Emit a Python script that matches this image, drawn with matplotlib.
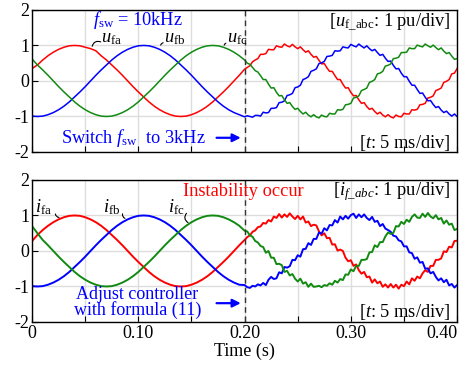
import matplotlib
matplotlib.use('Agg')
import matplotlib.pyplot as plt
import numpy as np

plt.rcParams['font.family'] = ['Liberation Serif', 'DejaVu Serif']
plt.rcParams['mathtext.fontset'] = 'custom'
plt.rcParams['mathtext.rm'] = 'Liberation Serif'
plt.rcParams['mathtext.it'] = 'Liberation Serif:italic'
plt.rcParams['axes.unicode_minus'] = False

# sample times: 5 ms steps before the switch, 2.5 ms after it
t_pre = np.arange(40) * 0.005
t_post = 0.2 + np.arange(81) * 0.0025

# top panel: filter voltages u_fa, u_fb, u_fc (pu)
ua_pre = [.35, .45, .59, .71, .81, .89, .95, .99, 1.00, .99, .95, .91, .85, .71, .59, .45, .31, .16, 0, -.16,
          -.31, -.45, -.59, -.71, -.81, -.89, -.95, -.99, -1.00, -.99, -.95, -.89, -.81, -.71, -.59, -.45, -.31, -.16, 0, .16]
ub_pre = [-.99, -1.00, -.99, -.95, -.89, -.81, -.71, -.59, -.45, -.31, -.16, 0, .16, .31, .45, .59, .71, .81, .89, .95,
          .99, 1.00, .99, .95, .89, .81, .71, .59, .45, .31, .16, 0, -.16, -.31, -.45, -.59, -.71, -.81, -.89, -.95]
uc_pre = [.62, .45, .31, .16, 0, -.16, -.31, -.45, -.59, -.71, -.81, -.89, -.95, -.99, -1.00, -.99, -.95, -.89, -.81, -.71,
          -.59, -.45, -.31, -.16, 0, .16, .31, .45, .59, .71, .81, .89, .95, .99, 1.00, .99, .95, .89, .81, .71]

ua_post = [.33, .38, .43, .54, .59, .63, .75, .75, .77, .89, .88, .88, .99, .96, .95, 1.04, .99, .96, 1.03, .96,
           .91, .96, .88, .81, .85, .75, .67, .69, .58, .48, .49, .37, .27, .27, .15, .04, .04, -.09, -.20, -.19,
           -.32, -.42, -.41, -.53, -.63, -.61, -.72, -.80, -.77, -.86, -.93, -.88, -.96, -1.01, -.95, -1.01, -1.04, -.96, -1.00, -1.01,
           -.91, -.93, -.93, -.81, -.82, -.80, -.67, -.66, -.63, -.48, -.46, -.42, -.27, -.24, -.20, -.04, -.01, .04, .20, .22, .35]
ub_post = [-1.01, -.98, -1.00, -1.02, -.97, -.97, -.99, -.88, -.90, -.89, -.77, -.77, -.75, -.61, -.60, -.56, -.41, -.39, -.35, -.19,
           -.17, -.12, .04, .07, .12, .27, .30, .34, .49, .51, .55, .69, .70, .72, .85, .84, .85, .96, .94, .93,
           1.03, .99, .96, 1.04, .98, .93, .99, .91, .85, .89, .80, .72, .75, .64, .55, .56, .44, .34, .35, .22,
           .12, .12, -.01, -.12, -.12, -.24, -.35, -.34, -.46, -.56, -.55, -.66, -.75, -.72, -.82, -.89, -.85, -.93, -.99, -.93, -1.00]
uc_post = [.59, .50, .47, .38, .29, .25, .15, .04, .04, -.09, -.20, -.19, -.32, -.42, -.41, -.53, -.63, -.61, -.72, -.80,
           -.77, -.86, -.93, -.88, -.96, -1.01, -.95, -1.01, -1.04, -.96, -1.00, -1.01, -.91, -.93, -.93, -.81, -.82, -.80, -.67, -.66,
           -.63, -.48, -.46, -.42, -.27, -.24, -.20, -.04, -.01, .04, .20, .22, .27, .42, .44, .48, .63, .64, .67, .80,
           .80, .81, .93, .91, .91, 1.01, .98, .96, 1.04, .99, .95, 1.01, .94, .88, .93, .84, .77, .80, .70, .61, .63]

# bottom panel: filter currents i_fa, i_fb, i_fc (pu)
ia_pre = [.28, .45, .59, .71, .81, .89, .95, .99, 1.00, .99, .95, .89, .81, .71, .59, .45, .31, .16, 0, -.16,
          -.31, -.45, -.59, -.71, -.81, -.89, -.95, -.99, -1.00, -.99, -.95, -.89, -.81, -.71, -.59, -.45, -.31, -.16, 0, .16]
ib_pre = [-.99, -1.00, -.99, -.95, -.89, -.81, -.71, -.59, -.45, -.31, -.16, 0, .16, .31, .45, .59, .71, .81, .89, .95,
          .99, 1.00, .99, .95, .89, .81, .71, .59, .45, .31, .16, 0, -.16, -.31, -.45, -.59, -.71, -.81, -.89, -.95]
ic_pre = [.70, .50, .31, .16, 0, -.16, -.31, -.45, -.59, -.71, -.81, -.89, -.95, -.99, -1.00, -.99, -.95, -.89, -.81, -.71,
          -.59, -.45, -.31, -.16, 0, .16, .31, .45, .59, .71, .81, .89, .95, .99, 1.00, .99, .95, .89, .81, .71]

ia_post = [.31, .39, .44, .54, .58, .67, .69, .79, .77, .87, .83, .97, .93, 1.04, .94, 1.03, .96, 1.06, .97, .90,
           .99, .89, .97, .80, .83, .70, .74, .72, .55, .44, .50, .36, .37, .18, .19, .01, .04, 0, -.19, -.29,
           -.26, -.42, -.38, -.54, -.64, -.59, -.74, -.72, -.89, -.80, -.91, -.86, -1.01, -.94, -1.03, -.93, -1.03, -.95, -1.06, -.95,
           -.99, -.86, -.94, -.77, -.84, -.72, -.77, -.63, -.54, -.59, -.42, -.42, -.25, -.25, -.21, -.01, -.03, .12, .10, .28, .29]
ib_post = [-.96, -1.02, -1.04, -.98, -1.00, -.94, -.97, -.90, -.96, -.81, -.73, -.79, -.77, -.60, -.63, -.45, -.47, -.43, -.25, -.26,
           -.12, -.16, .05, .06, .22, .17, .34, .34, .52, .49, .64, .58, .73, .72, .87, .80, .97, .89, .99, .91,
           1.01, 1.05, .93, 1.03, .95, 1.03, .93, .87, .96, .82, .85, .70, .76, .63, .59, .54, .43, .41, .30, .27,
           .13, .13, -.04, -.06, -.22, -.18, -.33, -.31, -.50, -.49, -.63, -.59, -.73, -.83, -.77, -.88, -.81, -.97, -.93, -1.03, -.96]
ic_post = [.57, .55, .44, .40, .28, .24, .14, .11, -.05, 0, -.19, -.19, -.37, -.36, -.40, -.59, -.56, -.69, -.65, -.78,
           -.86, -.78, -.92, -.88, -1.01, -.92, -1.01, -1.00, -.98, -1.02, -.96, -.98, -.91, -.95, -.84, -.89, -.79, -.82, -.66, -.67,
           -.52, -.57, -.42, -.42, -.25, -.25, -.23, -.04, -.03, .16, .11, .25, .25, .41, .52, .48, .51, .70, .69, .82,
           .76, .88, .82, .96, 1.03, .94, .93, 1.05, .96, 1.07, .97, .92, 1.01, .89, .93, .77, .86, .74, .77, .59, .62]

t = np.r_[t_pre, t_post]
top = [np.r_[ua_pre, ua_post], np.r_[ub_pre, ub_post], np.r_[uc_pre, uc_post]]
bot = [np.r_[ia_pre, ia_post], np.r_[ib_pre, ib_post], np.r_[ic_pre, ic_post]]
colors = ['#ff0000', '#0000ff', '#118a11']
blue = '#0000ff'

fig = plt.figure(figsize=(4.65, 3.68), dpi=100)
ax1 = fig.add_axes([0.069, 0.587, 0.914, 0.386])
ax2 = fig.add_axes([0.069, 0.125, 0.914, 0.386])

for ax, data, lw in [(ax1, top, 1.1), (ax2, bot, 1.4)]:
    for y, c in zip(data, colors):
        ax.plot(t, y, color=c, lw=lw)
    ax.axvline(0.2, color='#333333', ls=(0, (4, 3)), lw=1.0)
    ax.set_xlim(0, 0.4)
    ax.set_ylim(-2, 2)
    ax.set_xticks(np.arange(0, 0.401, 0.05))
    ax.set_yticks([-2, -1, 0, 1, 2])
    ax.set_yticklabels(['-2', '-1', '0', '1', '2'])
    ax.grid(True, color='#dddddd', lw=1.0)
    ax.set_axisbelow(True)
    ax.tick_params(direction='in', labelsize=13, length=4, pad=2)
    for s in ax.spines.values():
        s.set_linewidth(1.0)

ax1.set_xticklabels([])
ax2.set_xticklabels(['0', '', '0.10', '', '0.20', '', '0.30', '', '0.40'])
ax2.get_xticklabels()[-1].set_horizontalalignment('right')
ax2.set_xlabel('Time (s)', fontsize=13, labelpad=1)

fs = 13.2
# top panel texts
ax1.text(0.057, 1.57, r'$f_{\rm sw}$ = 10kHz', color=blue, fontsize=fs)
ax1.text(0.394, 1.54, r'[$u_{\rm f\_abc}$: 1 pu/div]', ha='right', fontsize=fs)
ax1.text(0.394, -1.89, r'[$t$: 5 ms/div]', ha='right', fontsize=fs)
ax1.text(0.027, -1.74, r'Switch $f_{\rm sw}$  to 3kHz', color=blue, fontsize=fs)
ax1.annotate('', xy=(0.199, -1.6), xytext=(0.171, -1.6),
             arrowprops=dict(arrowstyle='-|>', color=blue, lw=1.6, mutation_scale=12))
for name, lx, ly, px, py in [('fa', 0.065, 1.09, 0.056, 0.90),
                             ('fb', 0.124, 1.09, 0.121, 0.93),
                             ('fc', 0.183, 1.09, 0.181, 0.93)]:
    ax1.text(lx, ly, r'$u_{\rm %s}$' % name, fontsize=fs)
    ax1.annotate('', xy=(px, py), xytext=(lx + 0.002, ly - 0.02),
                 arrowprops=dict(arrowstyle='-', lw=0.8, color='black',
                                 connectionstyle='arc3,rad=0.7'))

# bottom panel texts
ax2.text(0.1425, 1.56, 'Instability occur', color='#ff0000', fontsize=fs)
ax2.text(0.394, 1.56, r'[$i_{f\_abc}$: 1 pu/div]', ha='right', fontsize=fs)
ax2.text(0.394, -1.87, r'[$t$: 5 ms/div]', ha='right', fontsize=fs)
ax2.text(0.099, -1.34, 'Adjust controller', color=blue, fontsize=13, ha='center')
ax2.text(0.099, -1.80, 'with formula (11)', color=blue, fontsize=13, ha='center')
ax2.annotate('', xy=(0.199, -1.47), xytext=(0.171, -1.47),
             arrowprops=dict(arrowstyle='-|>', color=blue, lw=1.6, mutation_scale=12))
for name, lx, ly, px, py in [('fa', 0.003, 1.10, 0.028, 0.95),
                             ('fb', 0.067, 1.10, 0.090, 0.90),
                             ('fc', 0.128, 1.10, 0.149, 0.76)]:
    ax2.text(lx, ly, r'$i_{\rm %s}$' % name, fontsize=fs)
    ax2.annotate('', xy=(px, py), xytext=(lx + 0.019, ly + 0.02),
                 arrowprops=dict(arrowstyle='-', lw=0.8, color='black',
                                 connectionstyle='arc3,rad=0.7'))

fig.savefig('out.png', dpi=100)
